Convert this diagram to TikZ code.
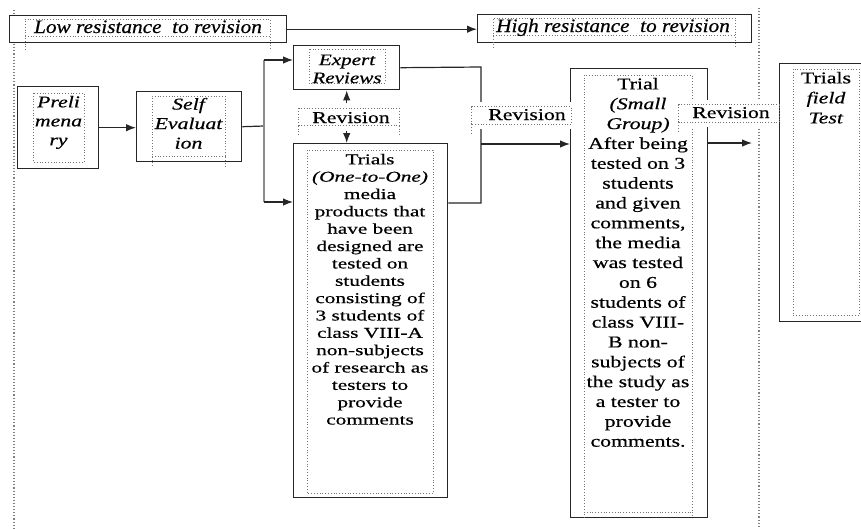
\documentclass[tikz,border=0pt]{standalone}
\usepackage{fontspec}
\setmainfont{Liberation Serif}
\newfontfamily\fA[FakeStretch=1.42,FakeBold=0.5]{Liberation Serif}
\newfontfamily\fB[FakeStretch=1.32,FakeBold=0.5]{Liberation Serif}
\newfontfamily\fC[FakeStretch=1.12,FakeBold=0.5]{Liberation Serif}
\usetikzlibrary{arrows.meta}
\begin{document}
\begin{tikzpicture}[x=1pt,y=-1pt,
  box/.style={draw=black!85, fill=white, line width=1.4pt, anchor=north west, inner sep=0pt},
  frame/.style={draw=black!55, dotted, line width=0.8pt},
  sep/.style={draw=black!50, dotted, line width=1.1pt},
  conn/.style={draw=black!85, line width=1.2pt},
  arr/.style={conn, -{Latex[length=10pt,width=7.5pt]}},
  lab/.style={fill=white, inner sep=0pt, minimum height=27pt},
  txt/.style={inner sep=0pt, align=center, text=black},
  tA/.style={txt, font=\fA\fontsize{15}{17.35}\selectfont},
  tB/.style={txt, font=\fB\fontsize{16.5}{19.85}\selectfont},
  tC/.style={txt, font=\fC\fontsize{19}{22}\selectfont\itshape},
]
\useasboundingbox (0,0) rectangle (861,528);

% separators
\coordinate (sl1) at (14,10); \coordinate (sl2) at (14,528);
\coordinate (sr1) at (759,8);  \coordinate (sr2) at (759,528);
\draw[sep] (sl1) -- (sl2);
\draw[sep] (sr1) -- (sr2);

% boxes
\node[box, minimum width=277pt, minimum height=27pt] (low) at (9,15) {};
\node[box, minimum width=274pt, minimum height=28pt] (high) at (477,14) {};
\node[box, minimum width=81pt, minimum height=82pt] (pre) at (17,86) {};
\node[box, minimum width=105pt, minimum height=70pt] (self) at (136,91) {};
\node[box, minimum width=106pt, minimum height=44pt] (exp) at (293,45) {};
\node[box, minimum width=154pt, minimum height=354pt] (tri1) at (293,143) {};
\node[box, minimum width=137pt, minimum height=449pt] (sg) at (570,68) {};
\node[box, minimum width=100pt, minimum height=258pt] (ft) at (779,63) {};

% inner dotted frames
\draw[frame] (25,50) -- (25,19) -- (270,19) -- (270,50) (25,36) -- (270,36);
\draw[frame] (493,48) -- (493,18) -- (735,18) -- (735,48) (493,35) -- (735,35);
\draw[frame] (33,93) rectangle (84,162);
\draw[frame] (152,166) -- (152,96) -- (225,96) -- (225,166) (152,156) -- (225,156);
\draw[frame] (309,49) rectangle (385,83);
\draw[frame] (307,150) rectangle (433,493);
\draw[frame] (584,518) -- (584,75) -- (692,75) -- (692,518) (584,512) -- (692,512);
\draw[frame] (793,69) rectangle (859,315);

% connectors
\draw[arr] (low.east) -- (low.east -| high.west);
\draw[arr] (pre.east) -- (pre.east -| self.west);
\coordinate (j) at (264,126); \coordinate (jt) at (264,60); \coordinate (jb) at (264,202);
\draw[conn] (self.east) -- (j);
\draw[conn, draw=black!45, line width=1.8pt] (jt) -- (jb);
\draw[arr] (jt) -- (jt -| exp.west);
\draw[arr] (jb) -- (jb -| tri1.west);
\coordinate (k1) at (481,67); \coordinate (k2) at (481,203); \coordinate (k3) at (481,144);
\draw[conn] (exp.east) -- (k1) -- (k2) -- (k2 -| tri1.east);
\draw[arr] (k3) -- (k3 -| sg.west);
\coordinate (e3) at (752,143);
\draw[arr] (e3 -| sg.east) -- (e3);

% revision labels
\node[lab, minimum width=100pt] (rev1) at (349,117) {};
\node[lab, minimum width=99pt] (rev2) at (521.5,115.5) {};
\node[lab, minimum width=100pt] (rev3) at (729,113.5) {};
\draw[frame] ([yshift=5pt]rev1.south west) rectangle ([yshift=-5pt]rev1.north east);
\draw[frame] ([yshift=5pt]rev1.south west) -- ([yshift=-5pt]rev1.south west);
\draw[frame] ([yshift=5pt]rev1.south east) -- ([yshift=-5pt]rev1.south east);
\draw[frame] ([yshift=5pt]rev2.south west) rectangle ([yshift=-5pt]rev2.north east);
\draw[frame] ([yshift=5pt]rev2.south west) -- ([yshift=-5pt]rev2.south west);
\draw[frame] ([yshift=5pt]rev3.south west) rectangle ([yshift=-5pt]rev3.north east);
\draw[frame] ([yshift=5pt]rev3.south west) -- ([yshift=-5pt]rev3.south west);
\draw[arr] (rev1.north -| exp.south) -- (exp.south);
\draw[arr] (rev1.south -| exp.south) -- (tri1.north -| exp.south);

% texts
\node[tC, anchor=base] (tlow) at (148,33) {Low resistance\ \ to revision};
\node[tC, anchor=base] (thigh) at (613,32) {High resistance\ \ to revision};
\node[tB, anchor=north, font=\fB\fontsize{16.5}{19}\selectfont\itshape] (tpre) at (58.5,95.7) {Preli\\mena\\ry};
\node[tB, anchor=north, font=\fB\fontsize{16.5}{19.5}\selectfont\itshape] (tself) at (188.5,97.7) {Self\\Evaluat\\ion};
\node[tB, anchor=north, font=\fB\fontsize{16}{18}\selectfont\itshape] (texp) at (347,54.4) {Expert\\Reviews};
\node[tB, anchor=base] (trev1) at (351,123) {Revision};
\node[tB, anchor=base] (trev2) at (527,120) {Revision};
\node[tB, anchor=base] (trev3) at (731,118) {Revision};
\node[tA, anchor=north] (ttri1) at (370,153.7) {Trials\\ \textit{(One-to-One)}\\ media\\ products that\\ have been\\ designed are\\ tested on\\ students\\ consisting of\\ 3 students of\\ class VIII-A\\ non-subjects\\ of research as\\ testers to\\ provide\\ comments};
\node[tB, anchor=north] (tsg) at (638,77.7) {Trial\\ \textit{(Small}\\ \textit{Group)}\\ After being\\ tested on 3\\ students\\ and given\\ comments,\\ the media\\ was tested\\ on 6\\ students of\\ class VIII-\\ B non-\\ subjects of\\ the study as\\ a tester to\\ provide\\ comments.};
\node[tB, anchor=north, font=\fB\fontsize{16.5}{20}\selectfont] (tft) at (826,71.7) {Trials\\ \textit{field}\\ \textit{Test}};
\end{tikzpicture}
\end{document}
